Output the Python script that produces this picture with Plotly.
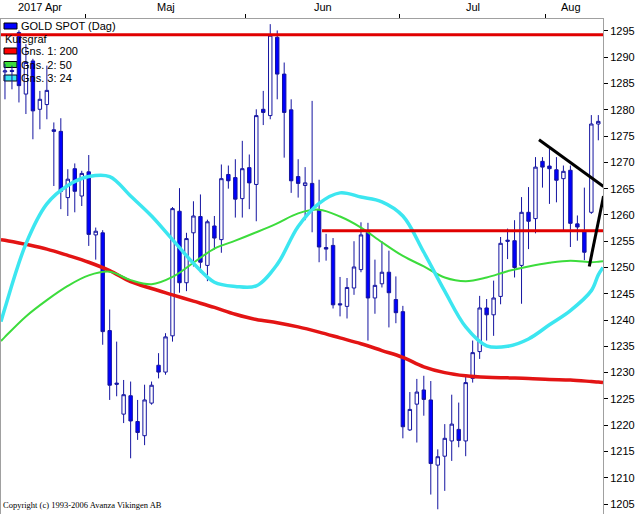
import pandas as pd
import plotly.graph_objects as go

# GOLD SPOT, daily candles 13 Apr - 10 Aug 2017
opens = [1287.2, 1287.5, 1294.7, 1283.0, 1289.3, 1280.1, 1281.0, 1276.2, 1275.9, 1263.3,
         1268.8, 1263.6, 1268.2, 1256.2, 1256.6, 1238.0, 1228.0, 1222.1, 1225.6, 1220.7,
         1218.0, 1224.2, 1231.4, 1230.1, 1237.0, 1260.7, 1247.1, 1256.6, 1259.7, 1250.4,
         1257.9, 1255.3, 1267.7, 1267.1, 1263.1, 1269.0, 1265.8, 1280.1, 1278.9, 1293.8,
         1286.8, 1280.0, 1267.3, 1265.6, 1266.0, 1260.9, 1253.8, 1254.2, 1243.1, 1242.6,
         1246.1, 1249.6, 1256.7, 1244.2, 1246.9, 1249.1, 1243.9, 1241.6, 1219.1, 1224.0,
         1226.7, 1224.8, 1212.4, 1214.1, 1217.0, 1219.2, 1217.0, 1228.9, 1234.0, 1242.3,
         1241.0, 1244.5, 1255.2, 1255.1, 1250.4, 1260.5, 1259.3, 1270.2, 1269.3, 1268.6,
         1266.9, 1268.5, 1258.3, 1256.9, 1260.5, 1277.3]
highs = [1288.7, 1288.4, 1295.1, 1292.5, 1289.7, 1283.6, 1288.4, 1277.6, 1278.4, 1268.7,
         1269.8, 1268.4, 1271.4, 1257.6, 1257.1, 1242.0, 1235.9, 1228.6, 1228.3, 1224.8,
         1227.7, 1228.3, 1233.7, 1237.5, 1261.5, 1265.1, 1256.6, 1262.6, 1263.9, 1259.1,
         1259.8, 1269.6, 1269.4, 1270.6, 1274.1, 1271.5, 1280.1, 1283.6, 1296.3, 1295.1,
         1289.0, 1282.0, 1270.6, 1269.1, 1281.7, 1266.7, 1256.4, 1255.6, 1248.2, 1248.0,
         1255.0, 1258.6, 1258.5, 1251.5, 1255.0, 1253.2, 1248.3, 1242.7, 1226.3, 1228.8,
         1229.4, 1228.4, 1215.4, 1220.2, 1225.8, 1224.3, 1229.4, 1236.1, 1244.6, 1244.0,
         1247.5, 1255.8, 1257.4, 1259.0, 1263.4, 1265.3, 1271.0, 1271.0, 1272.6, 1271.0,
         1269.4, 1269.4, 1259.9, 1265.2, 1279.0, 1279.0]
lows = [1282.0, 1283.9, 1281.4, 1279.2, 1274.4, 1276.3, 1278.2, 1265.5, 1261.1, 1259.8,
        1260.5, 1261.7, 1254.1, 1251.5, 1235.3, 1224.8, 1225.5, 1220.4, 1213.7, 1217.2,
        1216.2, 1223.9, 1228.9, 1229.6, 1235.9, 1245.2, 1245.5, 1250.2, 1249.0, 1247.4,
        1253.4, 1252.8, 1265.0, 1259.5, 1259.5, 1261.1, 1258.8, 1277.1, 1278.2, 1282.0,
        1270.9, 1264.2, 1263.3, 1259.0, 1256.7, 1251.0, 1251.3, 1242.2, 1240.7, 1240.3,
        1244.8, 1249.1, 1236.1, 1241.2, 1246.2, 1238.6, 1239.4, 1217.5, 1218.9, 1216.7,
        1221.8, 1206.8, 1204.0, 1207.5, 1213.2, 1215.8, 1214.1, 1228.1, 1232.6, 1236.1,
        1237.0, 1243.0, 1251.6, 1248.1, 1243.1, 1253.5, 1256.5, 1265.2, 1262.1, 1262.4,
        1257.0, 1253.9, 1255.1, 1251.4, 1260.2, 1274.2]
closes = [1287.4, 1287.3, 1284.6, 1289.0, 1279.8, 1282.0, 1283.7, 1275.9, 1264.5, 1266.8,
          1264.5, 1267.9, 1256.3, 1256.9, 1237.8, 1227.6, 1227.8, 1225.8, 1220.8, 1218.6,
          1224.8, 1227.6, 1230.1, 1236.8, 1261.2, 1247.1, 1255.5, 1259.8, 1251.0, 1258.7,
          1255.6, 1266.9, 1266.5, 1263.0, 1268.8, 1266.1, 1278.9, 1279.5, 1294.2, 1286.8,
          1279.5, 1266.5, 1266.0, 1266.1, 1260.9, 1253.9, 1253.5, 1242.9, 1242.9, 1246.2,
          1250.1, 1256.2, 1244.2, 1246.6, 1249.1, 1245.2, 1241.4, 1219.7, 1223.0, 1226.3,
          1224.9, 1212.7, 1214.0, 1217.5, 1220.2, 1217.1, 1228.1, 1233.8, 1242.3, 1241.0,
          1244.2, 1254.6, 1255.0, 1250.0, 1260.5, 1258.8, 1269.1, 1269.1, 1268.8, 1266.6,
          1268.3, 1258.4, 1257.7, 1252.9, 1277.3, 1277.8]

# moving averages, sampled every third session (plus the last one)
ma_idx = list(range(0, 85, 3)) + [85]
ma200 = [1255.2, 1254.4, 1253.5, 1252.3, 1251.0, 1249.4, 1247.3, 1246.0, 1244.8, 1243.6,
         1242.4, 1241.1, 1240.1, 1239.5, 1238.7, 1237.7, 1236.6, 1235.5, 1234.2, 1232.9,
         1231.1, 1230.0, 1229.4, 1229.1, 1229.0, 1228.9, 1228.7, 1228.6, 1228.3, 1228.2]
ma50 = [1236.8, 1240.7, 1243.8, 1246.5, 1248.5, 1249.2, 1247.6, 1246.8, 1248.2, 1250.9,
        1253.6, 1255.1, 1256.7, 1258.4, 1260.3, 1261.0, 1259.7, 1257.6, 1254.8, 1252.2,
        1250.2, 1248.1, 1247.4, 1248.1, 1249.3, 1250.2, 1250.9, 1251.3, 1251.0, 1251.1]
ma24 = [1242.3, 1254.5, 1262.1, 1265.6, 1267.3, 1267.3, 1263.6, 1259.8, 1255.3, 1250.8,
        1247.2, 1246.4, 1246.5, 1250.6, 1257.8, 1262.2, 1264.2, 1263.4, 1262.5, 1259.8,
        1252.9, 1245.5, 1238.7, 1235.1, 1235.0, 1236.4, 1239.1, 1241.8, 1245.6, 1248.6]
# values where the averages meet the left / right edge of the plot
ma_edges = {"200": (1255.3, 1228.1), "50": (1236.0, 1251.2), "24": (1239.7, 1250.0)}

# drawn support/resistance levels and trend lines
level_prices = [1294.3, 1257.0]
level_starts = ["2017-04-12 22:20", "2017-06-15 22:00"]
trend_x = [["2017-07-31 00:00", "2017-08-11 06:00"], ["2017-08-09 04:50", "2017-08-11 06:00"]]
trend_y = [[1274.3, 1265.4], [1250.2, 1263.6]]

month_labels = ["2017 Apr", "Maj", "Jun", "Jul", "Aug"]
month_ticks = ["2017-05-01", "2017-06-01", "2017-07-03", "2017-08-01"]
y_ticks = list(range(1205, 1300, 5))

x_left, x_right = "2017-04-12 22:20", "2017-08-11 04:05"

dates = pd.bdate_range("2017-04-13", periods=len(opens)) + pd.Timedelta(hours=12)
ma_x = [x_left] + [dates[i] for i in ma_idx] + [x_right]

W, H = 639, 514
L, R, T, B = 1, 36, 19, 0

fig = go.Figure()

fig.add_trace(go.Candlestick(
    x=dates, open=opens, high=highs, low=lows, close=closes,
    increasing=dict(line=dict(color="#1414a0", width=1), fillcolor="white"),
    decreasing=dict(line=dict(color="#1414a0", width=1), fillcolor="#0000ff"),
    showlegend=False, hoverinfo="skip",
))

for key, vals, col, w in [("200", ma200, "#e31414", 3.5),
                          ("50", ma50, "#3cdc3c", 2),
                          ("24", ma24, "#3ce6f0", 3.5)]:
    ys = [ma_edges[key][0]] + vals + [ma_edges[key][1]]
    fig.add_trace(go.Scatter(x=ma_x, y=ys, mode="lines", line=dict(color=col, width=w, shape="spline"),
                             showlegend=False, hoverinfo="skip"))

for p, s in zip(level_prices, level_starts):
    fig.add_trace(go.Scatter(x=[s, "2017-08-11 06:00"], y=[p, p], mode="lines",
                             line=dict(color="#e00000", width=3), showlegend=False, hoverinfo="skip"))

for tx, ty in zip(trend_x, trend_y):
    fig.add_trace(go.Scatter(x=tx, y=ty, mode="lines", line=dict(color="black", width=3),
                             showlegend=False, hoverinfo="skip"))

# legend drawn as in the original program (box + text rows)
legend_rows = [("GOLD SPOT (Dag)", "#0000ff", 26), ("Kursgraf", None, 38.5),
               ("Gns. 1: 200", "#ff0000", 51), ("Gns. 2: 50", "#3cdc3c", 64.5),
               ("Gns. 3: 24", "#3ce6f0", 78)]
shapes = []
annotations = []
for text, col, yc in legend_rows:
    off = yc - T
    if col:
        shapes.append(dict(type="rect", xref="paper", yref="paper", xsizemode="pixel", ysizemode="pixel",
                           xanchor=0, yanchor=1, x0=3, x1=16, y0=-(off - 3), y1=-(off + 3),
                           fillcolor=col, line=dict(color="black", width=1), layer="below"))
    annotations.append(dict(text=text, xref="paper", yref="paper", x=0, y=1, xanchor="left", yanchor="middle",
                            xshift=18 if col else 2, yshift=-off, showarrow=False,
                            font=dict(size=11, color="black")))

def px_x(px):
    return (px - L) / (W - L - R)

for lab, cx in zip(month_labels, [40, 166, 323, 473, 571]):
    annotations.append(dict(text=lab, xref="paper", yref="paper", x=px_x(cx), y=1, xanchor="center",
                            yanchor="middle", yshift=12, showarrow=False, font=dict(size=11, color="black")))

annotations.append(dict(text="Copyright (c) 1993-2006 Avanza Vikingen AB", xref="paper", yref="paper",
                        x=0, y=0, xanchor="left", yanchor="middle", xshift=0, yshift=9, showarrow=False,
                        font=dict(family="Liberation Serif, Times New Roman, serif", size=8.5, color="black")))

fig.update_layout(
    width=W, height=H,
    margin=dict(l=L, r=R, t=T, b=B),
    paper_bgcolor="white", plot_bgcolor="white",
    font=dict(family="Liberation Sans, Arial, sans-serif", size=11, color="black"),
    showlegend=False,
    shapes=shapes, annotations=annotations,
)
fig.update_xaxes(
    type="date", range=[x_left, x_right], rangebreaks=[dict(bounds=["sat", "mon"])],
    rangeslider_visible=False, side="top",
    tickvals=month_ticks, showticklabels=False, ticks="outside", ticklen=4, tickcolor="black",
    showline=True, linecolor="#a0a0a0", mirror=True, showgrid=False, zeroline=False,
)
fig.update_yaxes(
    range=[1203.1, 1297.28], side="right", tickvals=y_ticks,
    ticks="outside", ticklen=4, tickcolor="black", tickfont=dict(size=11),
    showline=True, linecolor="#a0a0a0", mirror=True, showgrid=False, zeroline=False,
)

# the page's default body margin would shift the figure by 8 px
fig.write_html("out.html", config={"displayModeBar": False},
               post_script="document.body.style.margin = '0';")
